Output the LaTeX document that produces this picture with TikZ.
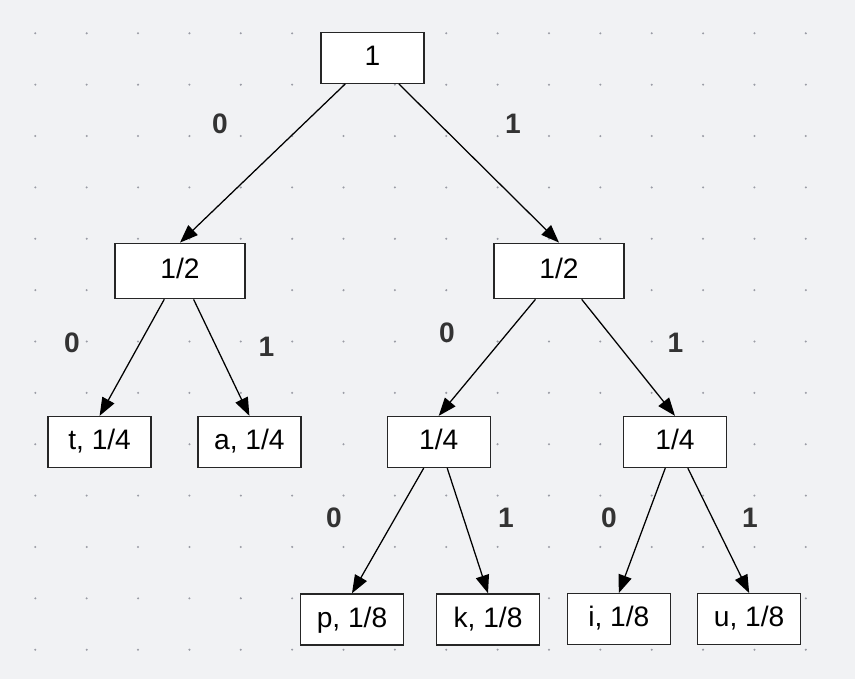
\documentclass[tikz,border=0pt]{standalone}
\usepackage{fontspec}
\setmainfont{Liberation Sans}
\usetikzlibrary{arrows.meta, positioning}
\definecolor{canvas}{HTML}{F1F2F4}
\definecolor{griddot}{HTML}{9A9CA5}
\definecolor{bitcol}{HTML}{333333}

\begin{document}
\begin{tikzpicture}[
    every node/.style={font=\fontsize{15.6}{18}\selectfont},
    box/.style={rectangle, draw=black!85, line width=0.7pt, fill=white,
               minimum width=2.005cm, minimum height=0.993cm, inner sep=0pt,
               text height=11.3pt, text depth=2.7pt},
    wide/.style={box, minimum width=2.53cm, minimum height=1.08cm},
    bit/.style={text=bitcol, font=\fontsize{15.6}{18}\selectfont\bfseries, inner sep=0pt},
    arr/.style={-{Triangle[length=10pt, width=7.5pt]}, line width=0.7pt}
]
    % canvas and dot grid
    \fill[canvas] (0,0) rectangle (16.644,-13.218);
    \foreach \i in {0,...,15}
      \foreach \j in {0,...,12}
        \fill[griddot] (0.687+\i,-0.648-\j) circle (0.022);

    \node[box] (root) at (7.251,-1.125) {1};
    \node[wide] (halfL) at (3.504,-5.275) {1/2};
    \node[wide] (halfR) at (10.882,-5.275) {1/2};
    \node[box] (symT) at (1.939,-8.604) {t, 1/4};
    \node[box] (symA) at (4.855,-8.604) {a, 1/4};
    \node[box] (quarterM) at (8.540,-8.604) {1/4};
    \node[box] (quarterR) at (13.140,-8.604) {1/4};
    \node[box] (symP) at (6.852,-12.058) {p, 1/8};
    \node[box] (symK) at (9.500,-12.058) {k, 1/8};
    \node[box] (symI) at (12.046,-12.054) {i, 1/8};
    \node[box] (symU) at (14.584,-12.054) {u, 1/8};

    \draw[arr] (root) -- (halfL.north);
    \draw[arr] (root) -- (halfR.north);
    \draw[arr] (halfL) -- (symT.north);
    \draw[arr] (halfL) -- (symA.north);
    \draw[arr] (halfR) -- (quarterM.north);
    \draw[arr] (halfR) -- (quarterR.north);
    \draw[arr] (quarterM) -- (symP.north);
    \draw[arr] (quarterM) -- (symK.north);
    \draw[arr] (quarterR) -- (symI.north);
    \draw[arr] (quarterR) -- (symU.north);

    % bit labels
    \node[bit] (bitRootL) at (4.283,-2.414) {0};
    \node[bit] (bitRootR) at (9.986,-2.414) {1};
    \node[bit] (bitHalfLL) at (1.402,-6.677) {0};
    \node[bit] (bitHalfLR) at (5.188,-6.755) {1};
    \node[bit] (bitHalfRL) at (8.702,-6.473) {0};
    \node[bit] (bitHalfRR) at (13.150,-6.667) {1};
    \node[bit] (bitQuarterML) at (6.502,-10.084) {0};
    \node[bit] (bitQuarterMR) at (9.850,-10.084) {1};
    \node[bit] (bitQuarterRL) at (11.855,-10.084) {0};
    \node[bit] (bitQuarterRR) at (14.600,-10.084) {1};
\end{tikzpicture}
\end{document}
